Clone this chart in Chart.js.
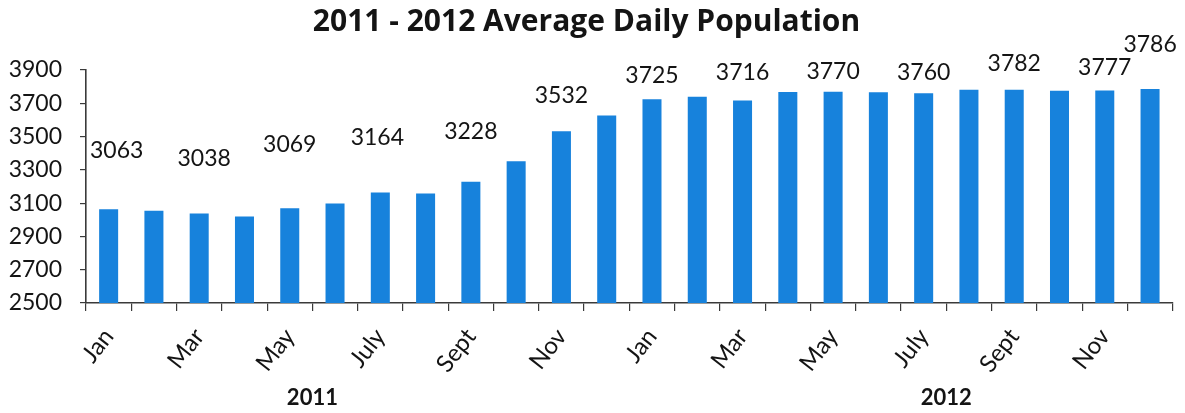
<!DOCTYPE html>
<html>
<head>
<meta charset="utf-8">
<title>2011 - 2012 Average Daily Population</title>
<script src="https://cdn.jsdelivr.net/npm/chart.js@4.4.1/dist/chart.umd.min.js"></script>
<style>
    html, body { margin: 0; padding: 0; background: #fff; }
    #wrap { width: 1185px; height: 413px; }
</style>
</head>
<body>
<div id="wrap"><canvas id="adp-chart"></canvas></div>
<script>
// Chart data
const months = ['Jan', 'Feb', 'Mar', 'Apr', 'May', 'June', 'July', 'Aug', 'Sept', 'Oct', 'Nov', 'Dec'];
const years = ['2011', '2012'];
const values2011 = [3063, 3055, 3038, 3020, 3069, 3098, 3164, 3158, 3228, 3352, 3532, 3626];
const values2012 = [3725, 3740, 3716, 3768, 3770, 3767, 3760, 3781, 3782, 3776, 3777, 3786];
const yTicks = [2500, 2700, 2900, 3100, 3300, 3500, 3700, 3900];

const categories = months.concat(months);
const values = values2011.concat(values2012);

// Label placement (pixels above the bar top / sideways nudge, one per labelled bar)
const labelLift = [59, 55, 64, 55, 50, 36, 24, 28, 20, 21, 26, 23, 44];
const labelNudge = [8, 5, 0, -3, 0, 0, 0, 0, 0, 0, 0, 0, 0];
// Year captions sit under these category positions
const yearAt = [4.5, 18.5];

const textColor = '#141414';
const axisColor = '#3a3a3a';
const fontFamily = 'Lato, "Open Sans", sans-serif';
const titleFamily = '"Open Sans", Lato, sans-serif';

// Value labels above bars + year captions under the axis
const annotations = {
    id: 'annotations',
    afterDatasetsDraw(chart) {
        const ctx = chart.ctx;
        const meta = chart.getDatasetMeta(0);
        const xScale = chart.scales.x;
        const last = meta.data.length - 1;

        ctx.save();
        ctx.fillStyle = textColor;
        ctx.textAlign = 'center';
        ctx.textBaseline = 'middle';
        ctx.font = '23px ' + fontFamily;

        let n = 0;
        meta.data.forEach((bar, i) => {
            if (i % 2 !== 0 && i !== last) return;
            ctx.fillText(String(values[i]), bar.x + labelNudge[n], bar.y - labelLift[n]);
            n++;
        });

        ctx.font = 'bold 22px ' + fontFamily;
        years.forEach((year, k) => {
            const lo = xScale.getPixelForValue(Math.floor(yearAt[k]));
            const hi = xScale.getPixelForValue(Math.ceil(yearAt[k]));
            ctx.fillText(year, (lo + hi) / 2, 398);
        });
        ctx.restore();
    }
};

const ctx = document.getElementById('adp-chart').getContext('2d');
const chart = new Chart(ctx, {
    type: 'bar',
    data: {
        labels: categories,
        datasets: [{
            label: 'Average Daily Population',
            data: values,
            backgroundColor: '#1782dc',
            borderWidth: 0,
            barPercentage: 0.42,
            categoryPercentage: 1
        }]
    },
    options: {
        responsive: true,
        maintainAspectRatio: false,
        animation: false,
        layout: {
            padding: { left: 0, right: 12, top: 0, bottom: 0 }
        },
        plugins: {
            legend: { display: false },
            tooltip: { enabled: false },
            title: {
                display: true,
                text: '2011 - 2012 Average Daily Population',
                color: textColor,
                font: { family: titleFamily, size: 30, weight: 'bold' },
                padding: { top: 4, bottom: 30 }
            }
        },
        scales: {
            x: {
                grid: {
                    offset: true,
                    drawOnChartArea: false,
                    tickLength: 8,
                    color: axisColor,
                    lineWidth: 1.2
                },
                border: { color: axisColor, width: 1.6 },
                ticks: {
                    autoSkip: false,
                    minRotation: 52,
                    maxRotation: 52,
                    padding: 12,
                    color: textColor,
                    font: { family: fontFamily, size: 24 },
                    callback: function(value, index) {
                        return index % 2 === 0 ? categories[index] : '';
                    }
                },
                afterFit: function(scale) {
                    scale.height = 110;
                }
            },
            y: {
                min: yTicks[0],
                max: yTicks[yTicks.length - 1],
                grid: {
                    drawOnChartArea: false,
                    tickLength: 6,
                    color: axisColor,
                    lineWidth: 1.2
                },
                border: { color: axisColor, width: 1.6 },
                ticks: {
                    stepSize: yTicks[1] - yTicks[0],
                    padding: 18,
                    color: textColor,
                    font: { family: fontFamily, size: 23 },
                    callback: function(value) {
                        return String(value);
                    }
                },
                afterFit: function(scale) {
                    scale.width = 86;
                }
            }
        }
    },
    plugins: [annotations]
});
</script>
</body>
</html>
